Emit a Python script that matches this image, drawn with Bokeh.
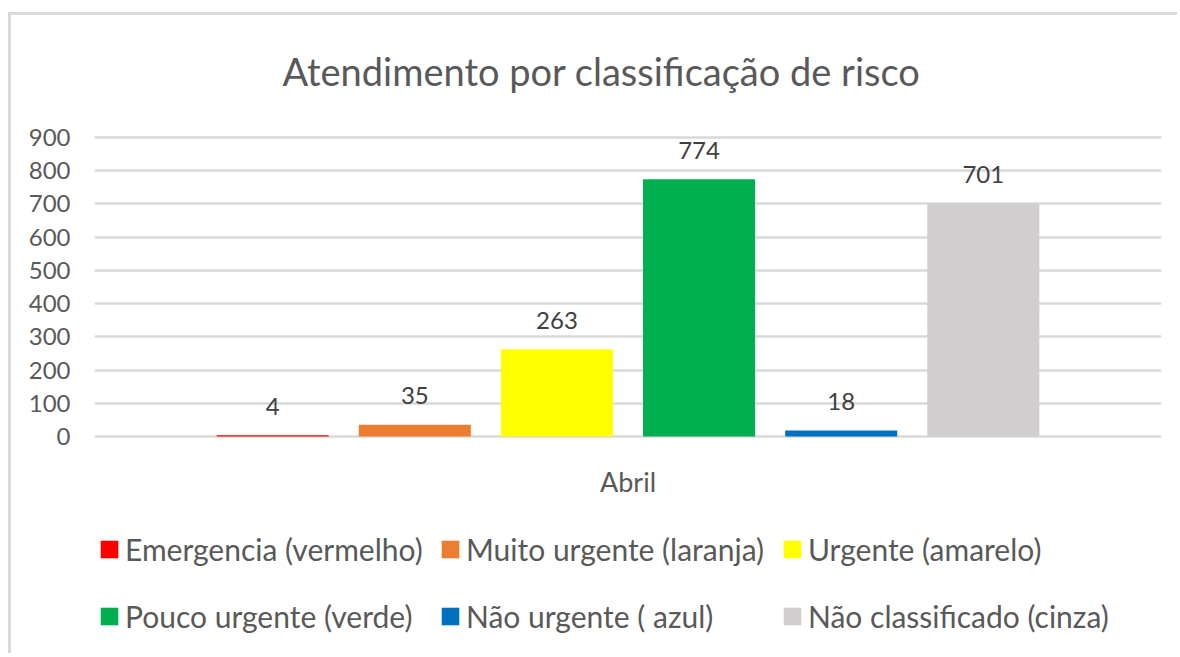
from bokeh.plotting import figure
from bokeh.models import (ColumnDataSource, FactorRange, Label, Legend, LegendItem,
                          Range1d, FixedTicker)
from bokeh.transform import dodge
from bokeh.embed import file_html
from bokeh.resources import INLINE
from bokeh.core.properties import value

# ---- data ----
title_text = "Atendimento por classificação de risco"
months = ["Abril"]
series = ["Emergencia (vermelho)", "Muito urgente (laranja)", "Urgente (amarelo)",
          "Pouco urgente (verde)", "Não urgente ( azul)", "Não classificado (cinza)"]
values = [4, 35, 263, 774, 18, 701]
colors = ["#FF0000", "#ED7D31", "#FFFF00", "#00B050", "#0070C0", "#D0CECE"]
y_ticks = [0, 100, 200, 300, 400, 500, 600, 700, 800, 900]

FONT = "Lato"
TXT = "#595959"

# layout (pixels): canvas size, zero line and 900 line positions
H = 641
W = 1169
px_zero = 421          # distance of the 0 line from the canvas top
px_per_100 = 299 / 9   # 900 spans 299 px
y_end = px_zero / px_per_100 * 100
y_start = -(H - px_zero) / px_per_100 * 100

p = figure(x_range=FactorRange(factors=months, range_padding=0),
           y_range=Range1d(y_start, y_end),
           width=W, height=H,
           output_backend="svg", toolbar_location=None,
           min_border_left=83, min_border_right=19,
           min_border_top=0, min_border_bottom=0)
p.styles = {"border-left": "3px solid #D9D9D9", "border-top": "3px solid #D9D9D9",
            "margin-left": "8px", "margin-top": "12px"}
p.outline_line_color = None
p.background_fill_color = "white"
p.border_fill_color = "white"

n = len(series)
step = 0.1332
bw = 0.105
renderers = []
for i, (name, v, c) in enumerate(zip(series, values, colors)):
    src = ColumnDataSource(dict(x=months, top=[v], lab=[str(v)]))
    off = (i - (n - 1) / 2) * step
    r = p.vbar(x=dodge("x", off, range=p.x_range), top="top", bottom=0, width=bw,
               source=src, fill_color=c, line_color=None)
    renderers.append(r)
    p.text(x=dodge("x", off, range=p.x_range), y="top", text="lab", source=src,
           text_align="center", text_baseline="alphabetic", y_offset=-29,
           text_font=value(FONT), text_font_size="24px", text_color="#404040")

# category label under the zero line
p.text(x=months, y=[0] * len(months), text=months, text_align="center",
       text_baseline="alphabetic", y_offset=45,
       text_font=value(FONT), text_font_size="27px", text_color=TXT)

# axes and grid
p.xaxis.visible = False
p.xgrid.visible = False
p.ygrid.ticker = FixedTicker(ticks=y_ticks)
p.ygrid.grid_line_color = "#D9D9D9"
p.ygrid.grid_line_width = 2.5
p.yaxis.ticker = FixedTicker(ticks=y_ticks)
ax = p.yaxis[0]
ax.axis_line_color = None
ax.major_tick_line_color = None
ax.minor_tick_line_color = None
ax.major_label_text_font = FONT
ax.major_label_text_color = TXT
ax.major_label_text_font_size = "24px"
ax.major_label_standoff = 18

# title (frame-relative screen position)
p.add_layout(Label(x=507, y=H - 55, x_units="screen", y_units="screen", text=title_text,
                   text_align="center", text_baseline="alphabetic",
                   text_font=FONT, text_font_size="38px", text_color=TXT))

# legend: 2 rows x 3 columns
col_x = [4, 345, 687]
row_y = [89, 22]
for i, (name, r) in enumerate(zip(series, renderers)):
    lg = Legend(items=[LegendItem(label=name, renderers=[r])],
                location=(col_x[i % 3], row_y[i // 3]),
                padding=0, margin=0, spacing=0,
                border_line_color=None, background_fill_alpha=0,
                glyph_width=22, glyph_height=22, label_standoff=5,
                label_text_font=FONT, label_text_font_size="30px",
                label_text_color=TXT)
    p.add_layout(lg, "center")

open("out.html", "w").write(file_html(p, INLINE))
